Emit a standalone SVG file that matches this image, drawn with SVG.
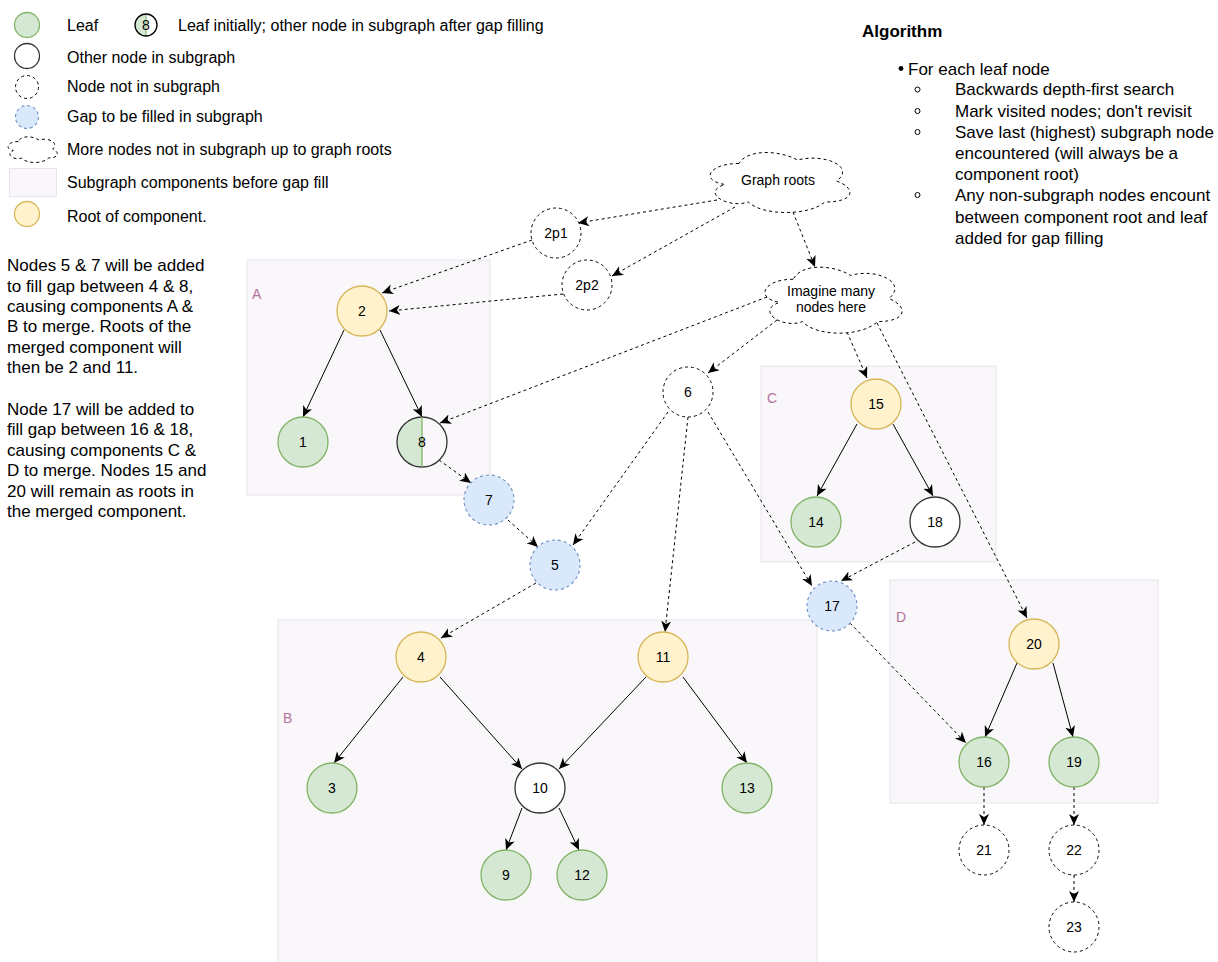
<svg xmlns="http://www.w3.org/2000/svg" width="1218" height="962" viewBox="0 0 1218 962">
<defs>
<marker id="arr" markerUnits="userSpaceOnUse" markerWidth="13" markerHeight="11" refX="11" refY="5" orient="auto">
<path d="M0,0 L11,5 L0,10 L3,5 Z" fill="#000"/>
</marker>
<style>
text{font-family:"Liberation Sans",Arial,sans-serif;fill:#000}
.lg{font-size:16px}
.tx{font-size:17px}
.nl{font-size:14px;text-anchor:middle}
.cl{font-size:14px;text-anchor:middle}
.bl{font-size:14px;fill:#B5739D}
.leaf{fill:#d5e8d4;stroke:#82b366;stroke-width:1.3}
.root{fill:#fff2cc;stroke:#d6b656;stroke-width:1.3}
.gap{fill:#dae8fc;stroke:#6c8ebf;stroke-width:1.1;stroke-dasharray:3 3}
.oth{fill:#fff;stroke:#333;stroke-width:1.3}
.out{fill:#fff;stroke:#000;stroke-width:1;stroke-dasharray:3 3}
.box{fill:#f9f7fa;stroke:#eae3ed;stroke-width:1}
.de{fill:none;stroke:#000;stroke-width:1;stroke-dasharray:3 3;marker-end:url(#arr)}
.se{fill:none;stroke:#000;stroke-width:1;marker-end:url(#arr)}
</style>
</defs>
<rect width="1218" height="962" fill="#fff"/>

<g id="legend">
<circle class="leaf" cx="27" cy="25" r="12.5"/>
<text class="lg" x="67" y="31">Leaf</text>
<path d="M146,14 A11,11 0 0 0 146,36 Z" fill="#d5e8d4"/>
<line x1="146" y1="14" x2="146" y2="36" stroke="#82b366" stroke-width="1"/>
<circle cx="146" cy="25" r="11" fill="none" stroke="#000" stroke-width="1.3"/>
<text x="146" y="30" style="font-size:14px;text-anchor:middle">8</text>
<text class="lg" x="178" y="31">Leaf initially; other node in subgraph after gap filling</text>
<circle class="oth" cx="27" cy="56" r="12.5"/>
<text class="lg" x="67" y="63">Other node in subgraph</text>
<circle class="out" cx="27" cy="87" r="11.5"/>
<text class="lg" x="67" y="92">Node not in subgraph</text>
<circle class="gap" cx="27" cy="117" r="11.5"/>
<text class="lg" x="67" y="122">Gap to be filled in subgraph</text>
<path class="out" d="M18.25,141.5 C7.25,141.5 4.5,149 13.3,150.5 C4.5,153.8 14.4,161 21.55,158 C26.5,164 43,164 48.5,158 C59.5,158 59.5,152 52.6,149 C59.5,143 48.5,137 38.9,140 C32,135.5 21,135.5 18.25,141.5 Z"/>
<text class="lg" x="67" y="155">More nodes not in subgraph up to graph roots</text>
<rect class="box" x="9.5" y="168.5" width="47" height="28"/>
<text class="lg" x="67" y="188">Subgraph components before gap fill</text>
<circle class="root" cx="27" cy="214" r="12.5"/>
<text class="lg" x="67" y="222">Root of component.</text>
</g>

<g id="notes">
<text class="tx" x="7" y="271">Nodes 5 &amp; 7 will be added</text>
<text class="tx" x="7" y="291.5">to fill gap between 4 &amp; 8,</text>
<text class="tx" x="7" y="312">causing components A &amp;</text>
<text class="tx" x="7" y="332">B to merge. Roots of the</text>
<text class="tx" x="7" y="352.5">merged component will</text>
<text class="tx" x="7" y="373">then be 2 and 11.</text>
<text class="tx" x="7" y="415">Node 17 will be added to</text>
<text class="tx" x="7" y="435">fill gap between 16 &amp; 18,</text>
<text class="tx" x="7" y="456">causing components C &amp;</text>
<text class="tx" x="7" y="476">D to merge. Nodes 15 and</text>
<text class="tx" x="7" y="497">20 will remain as roots in</text>
<text class="tx" x="7" y="517">the merged component.</text>
</g>

<g id="algorithm">
<text class="tx" x="862" y="37" style="font-weight:bold">Algorithm</text>
<circle cx="901" cy="68.5" r="2.4" fill="#000"/>
<text class="tx" x="908" y="74.5">For each leaf node</text>
<circle cx="917.5" cy="89.5" r="2.5" fill="none" stroke="#000" stroke-width="1"/>
<text class="tx" x="955" y="95">Backwards depth-first search</text>
<circle cx="917.5" cy="111" r="2.5" fill="none" stroke="#000" stroke-width="1"/>
<text class="tx" x="955" y="117">Mark visited nodes; don't revisit</text>
<circle cx="917.5" cy="132" r="2.5" fill="none" stroke="#000" stroke-width="1"/>
<text class="tx" x="955" y="138">Save last (highest) subgraph node</text>
<text class="tx" x="955" y="159">encountered (will always be a</text>
<text class="tx" x="955" y="180">component root)</text>
<circle cx="917.5" cy="195" r="2.5" fill="none" stroke="#000" stroke-width="1"/>
<text class="tx" x="955" y="201">Any non-subgraph nodes encount</text>
<text class="tx" x="955" y="223">between component root and leaf</text>
<text class="tx" x="955" y="244">added for gap filling</text>
</g>

<g id="components">
<g id="compA"><rect class="box" x="247" y="260" width="243" height="235"/><text class="bl" x="252" y="299">A</text></g>
<g id="compB"><rect class="box" x="278" y="620" width="539" height="360"/><text class="bl" x="283" y="723">B</text></g>
<g id="compC"><rect class="box" x="761" y="366" width="235" height="196"/><text class="bl" x="767" y="403">C</text></g>
<g id="compD"><rect class="box" x="890" y="580" width="268" height="223"/><text class="bl" x="896" y="622">D</text></g>
</g>

<g id="connectors">
<path class="de" d="M717,200 L578,223"/>
<path class="de" d="M735,207 L612,276"/>
<path class="de" d="M793,212 L815,267"/>
<path class="de" d="M532,240 L382,293"/>
<path class="de" d="M563,294 L389,311"/>
<path class="de" d="M767,297 L440,423"/>
<path class="de" d="M777,320 L708,373"/>
<path class="de" d="M847,332 L867,378"/>
<path class="de" d="M877,323 L1027,618"/>
<path class="de" d="M439,460 L471,483"/>
<path class="de" d="M508,520 L538,547"/>
<path class="de" d="M536,583 L441,638"/>
<path class="de" d="M668,412 L573,545"/>
<path class="de" d="M688,417 L665,632"/>
<path class="de" d="M708,412 L812,586"/>
<path class="de" d="M915,542 L841,581"/>
<path class="de" d="M850,623 L966,743"/>
<path class="de" d="M984,787 L984,825"/>
<path class="de" d="M1074,787 L1074,825"/>
<path class="de" d="M1074,875 L1074,902"/>
<path class="se" d="M344,330 L303,417"/>
<path class="se" d="M380,330 L422,417"/>
<path class="se" d="M857,424 L817,496"/>
<path class="se" d="M893,424 L933,496"/>
<path class="se" d="M1017,663 L985,737"/>
<path class="se" d="M1053,663 L1073,737"/>
<path class="se" d="M403,677 L334,763"/>
<path class="se" d="M440,677 L522,769"/>
<path class="se" d="M646,677 L559,769"/>
<path class="se" d="M683,677 L747,763"/>
<path class="se" d="M522,808 L506,850"/>
<path class="se" d="M559,808 L579,850"/>
</g>

<g id="graph-roots"><path class="out" d="M739,163.5 C707.8,163.5 700,181 725,184.5 C700,192.2 728.1,209 748.4,202 C762.4,216 809.2,216 824.8,202 C856,202 856,188 836.5,181 C856,167 824.8,153 797.5,160 C778,149.5 746.8,149.5 739,163.5 Z"/><text class="cl" x="778" y="185">Graph roots</text></g>
<g id="imagine"><path class="out" d="M793.25,279.25 C762.65,279.25 755,298.5 779.5,302.35 C755,310.8 782.5,329.3 802.4,321.6 C816.2,337 862.1,337 877.4,321.6 C908,321.6 908,306.2 888.9,298.5 C908,283.1 877.4,267.7 850.6,275.4 C831.5,263.85 800.9,263.85 793.25,279.25 Z"/><text class="cl" x="831" y="296">Imagine many</text><text class="cl" x="831" y="312">nodes here</text></g>

<g id="n2p1"><circle class="out" cx="556" cy="233" r="25"/><text class="nl" x="556" y="238">2p1</text></g>
<g id="n2p2"><circle class="out" cx="587" cy="285" r="25"/><text class="nl" x="587" y="290">2p2</text></g>
<g id="n2"><circle class="root" cx="362" cy="311" r="25"/><text class="nl" x="362" y="316">2</text></g>
<g id="n1"><circle class="leaf" cx="303" cy="442" r="25"/><text class="nl" x="303" y="447">1</text></g>
<g id="n8"><path d="M422,417 A25,25 0 0 0 422,467 Z" fill="#d5e8d4"/><circle cx="422" cy="442" r="25" fill="none" stroke="#333" stroke-width="1.3"/><line x1="422" y1="417" x2="422" y2="467" stroke="#82b366" stroke-width="1.3"/><text class="nl" x="422" y="447">8</text></g>
<g id="n7"><circle class="gap" cx="489" cy="500" r="25"/><text class="nl" x="489" y="505">7</text></g>
<g id="n5"><circle class="gap" cx="555" cy="565" r="25"/><text class="nl" x="555" y="570">5</text></g>
<g id="n6"><circle class="out" cx="688" cy="392" r="25"/><text class="nl" x="688" y="397">6</text></g>
<g id="n15"><circle class="root" cx="876" cy="404" r="25"/><text class="nl" x="876" y="409">15</text></g>
<g id="n14"><circle class="leaf" cx="816" cy="522" r="25"/><text class="nl" x="816" y="527">14</text></g>
<g id="n18"><circle class="oth" cx="935" cy="522" r="25"/><text class="nl" x="935" y="527">18</text></g>
<g id="n17"><circle class="gap" cx="832" cy="606" r="25"/><text class="nl" x="832" y="611">17</text></g>
<g id="n20"><circle class="root" cx="1034" cy="644" r="25"/><text class="nl" x="1034" y="649">20</text></g>
<g id="n16"><circle class="leaf" cx="984" cy="762" r="25"/><text class="nl" x="984" y="767">16</text></g>
<g id="n19"><circle class="leaf" cx="1074" cy="762" r="25"/><text class="nl" x="1074" y="767">19</text></g>
<g id="n21"><circle class="out" cx="984" cy="850" r="25"/><text class="nl" x="984" y="855">21</text></g>
<g id="n22"><circle class="out" cx="1074" cy="850" r="25"/><text class="nl" x="1074" y="855">22</text></g>
<g id="n23"><circle class="out" cx="1074" cy="927" r="25"/><text class="nl" x="1074" y="932">23</text></g>
<g id="n4"><circle class="root" cx="421" cy="657" r="25"/><text class="nl" x="421" y="662">4</text></g>
<g id="n11"><circle class="root" cx="663" cy="657" r="25"/><text class="nl" x="663" y="662">11</text></g>
<g id="n3"><circle class="leaf" cx="332" cy="788" r="25"/><text class="nl" x="332" y="793">3</text></g>
<g id="n10"><circle class="oth" cx="540" cy="788" r="25"/><text class="nl" x="540" y="793">10</text></g>
<g id="n13"><circle class="leaf" cx="747" cy="788" r="25"/><text class="nl" x="747" y="793">13</text></g>
<g id="n9"><circle class="leaf" cx="506" cy="875" r="25"/><text class="nl" x="506" y="880">9</text></g>
<g id="n12"><circle class="leaf" cx="582" cy="875" r="25"/><text class="nl" x="582" y="880">12</text></g>
</svg>
